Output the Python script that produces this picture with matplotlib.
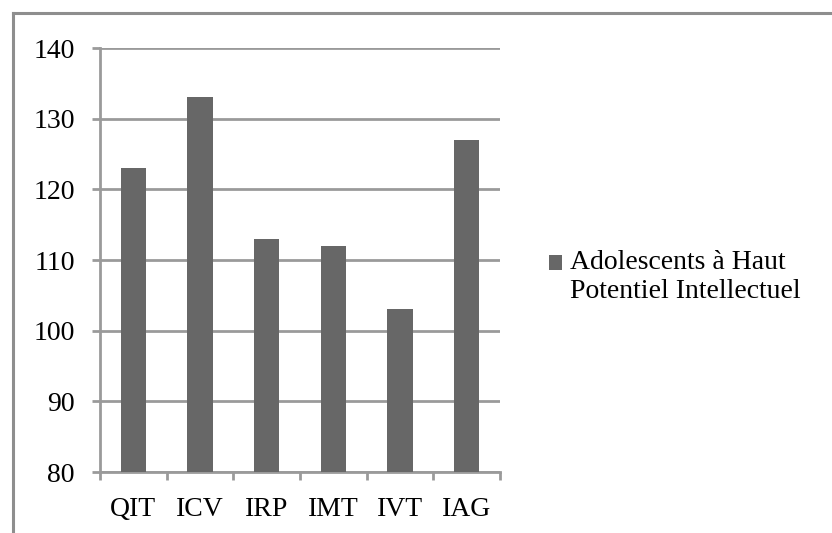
import matplotlib.pyplot as plt
from matplotlib.lines import Line2D
from matplotlib.patches import Patch, Rectangle
from matplotlib.legend_handler import HandlerPatch

# donnees du graphique
categories = ["QIT", "ICV", "IRP", "IMT", "IVT", "IAG"]
valeurs = [123, 133, 113, 112, 103, 127]
serie = "Adolescents à Haut\nPotentiel Intellectuel"

plt.rcParams['font.family'] = ['Liberation Serif', 'DejaVu Serif']

gris_barre = '#676767'
gris_ligne = '#9a9a9a'
taille = 20

fig = plt.figure(figsize=(8.32, 5.33), dpi=100)
ax = fig.add_axes([100/832, 1-472/533, 400/832, 424/533])

x = range(len(categories))
ax.bar(x, [v - 80 for v in valeurs], bottom=80, width=0.38, color=gris_barre, zorder=3)

ax.set_xlim(-0.5, len(categories) - 0.5)
ax.set_ylim(80, 140)
ax.set_yticks(range(80, 141, 10))
ax.set_xticks(list(x))
ax.set_xticklabels(categories)
ax.set_xticks([i - 0.5 for i in range(len(categories) + 1)], minor=True)

ax.yaxis.grid(True, color=gris_ligne, linewidth=2, zorder=0)
for s in ['top', 'right']:
    ax.spines[s].set_visible(False)
for s in ['left', 'bottom']:
    ax.spines[s].set_color(gris_ligne)
    ax.spines[s].set_linewidth(2)

ax.tick_params(axis='y', length=6, width=2, color=gris_ligne, pad=12, labelsize=taille)
ax.tick_params(axis='x', which='major', length=0, pad=18, labelsize=taille)
ax.tick_params(axis='x', which='minor', length=6, width=2, color=gris_ligne)


# carre de la legende aligne sur la premiere ligne du texte
def carre_haut(legend, orig_handle, xdescent, ydescent, width, height, fontsize):
    return Rectangle((-xdescent, -ydescent + 0.52 * fontsize), width, height)


handle = Patch(facecolor=gris_barre, edgecolor='none')
fig.legend([handle], [serie], loc='center left', bbox_to_anchor=(549/832, 1-277/533),
           frameon=False, fontsize=taille, handlelength=0.47, handleheight=0.47,
           handletextpad=0.3, borderpad=0, borderaxespad=0,
           handler_map={Patch: HandlerPatch(patch_func=carre_haut)})

# cadre du graphique (coupe a droite et en bas)
fig.add_artist(Line2D([13/832, 1], [1-13/533, 1-13/533], color='#8e8e8e', linewidth=2.2))
fig.add_artist(Line2D([13/832, 13/832], [0, 1-13/533], color='#8e8e8e', linewidth=2.2))

fig.savefig('out.png', dpi=100)
